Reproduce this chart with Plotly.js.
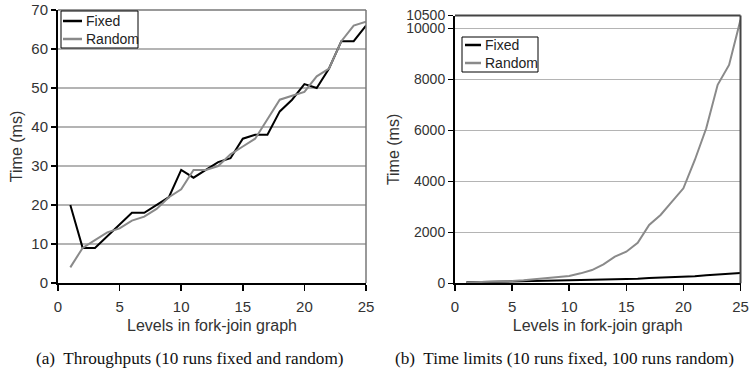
<!DOCTYPE html>
<html><head><meta charset="utf-8">
<script src="https://cdn.plot.ly/plotly-3.0.1.min.js"></script>
<style>body{margin:0;background:#fff}#c{width:750px;height:375px}</style>
</head><body><div id="c"></div>
<script>
const levels = [1,2,3,4,5,6,7,8,9,10,11,12,13,14,15,16,17,18,19,20,21,22,23,24,25];
const thrFixed  = [20,9,9,12,15,18,18,20,22,29,27,29,31,32,37,38,38,44,47,51,50,55,62,62,66];
const thrRandom = [4,9,11,13,14,16,17,19,22,24,29,29,30,33,35,37,42,47,48,49,53,55,62,66,67];
const limFixed  = [40,45,55,60,70,80,90,100,105,115,125,130,140,150,170,180,210,225,240,260,280,320,340,370,400];
const limRandom = [30,40,55,70,90,120,160,190,230,290,390,520,745,1045,1240,1590,2290,2680,3200,3725,4835,6080,7780,8560,10330];
const xTicks = [0,5,10,15,20,25];
const yTicksA = [0,10,20,30,40,50,60,70];
const yTicksB = [0,2000,4000,6000,8000,10000,10500];
const seriesNames = ['Fixed','Random'];
const captions = ["(a)  Throughputs (10 runs fixed and random)", "(b)  Time limits (10 runs fixed, 100 runs random)"];

const W = 750, H = 375;
const px = v => v / W, py = v => 1 - v / H;
const fixedColor = '#000000', randColor = '#8a8a8a';
const colors = [fixedColor, randColor];
const traces = [
  {x:levels, y:thrFixed, name:seriesNames[0], mode:'lines', line:{color:fixedColor,width:2}, xaxis:'x', yaxis:'y'},
  {x:levels, y:thrRandom, name:seriesNames[1], mode:'lines', line:{color:randColor,width:2}, xaxis:'x', yaxis:'y'},
  {x:levels, y:limFixed, name:seriesNames[0], mode:'lines', line:{color:fixedColor,width:2}, xaxis:'x2', yaxis:'y2'},
  {x:levels, y:limRandom, name:seriesNames[1], mode:'lines', line:{color:randColor,width:2}, xaxis:'x2', yaxis:'y2'}
];
const sans = 'Liberation Sans, Arial, sans-serif';
const tf = {family:sans, size:15, color:'#333'};
const titf = {family:sans, size:16, color:'#333'};
function xax(dom, anchor){
  return {domain:dom, anchor:anchor, range:[0,25], tickvals:xTicks, ticks:'outside', ticklen:6, tickwidth:1.5, tickcolor:'#000',
    ticklabelstandoff:3, showline:true, linecolor:'#000', linewidth:2, showgrid:false, zeroline:false,
    tickfont:tf, title:{text:'Levels in fork-join graph', font:titf, standoff:6}};
}
function yax(dom, anchor, range, ticks, standoff, fsize){
  return {domain:dom, anchor:anchor, range:range, tickvals:ticks, tickformat:'d', ticks:'outside', ticklen:5, tickwidth:1.5, tickcolor:'#000',
    showline:true, linecolor:'#000', linewidth:2, showgrid:true, gridcolor:'#b4b4b4', gridwidth:1.5, zeroline:false,
    tickfont:Object.assign({}, tf, {size:fsize}), title:{text:'Time (ms)', font:titf, standoff:standoff}};
}
// custom legends (box, line samples, labels)
const legends = [
  {x0:61, x1:138, y0:11, y1:48, lx0:63, lx1:82, tx:84, rows:[21,39]},
  {x0:462, x1:538, y0:37, y1:72, lx0:465, lx1:481, tx:483, rows:[45,63]}
];
const shapes = [
  {type:'line', xref:'x domain', yref:'y domain', x0:1, x1:1, y0:0, y1:1, line:{color:'#777', width:1.5}},
  {type:'line', xref:'x domain', yref:'y domain', x0:0, x1:1, y0:1, y1:1, line:{color:'#777', width:1.5}},
  {type:'line', xref:'x2 domain', yref:'y2 domain', x0:1, x1:1, y0:0, y1:1, line:{color:'#444', width:2}},
  {type:'line', xref:'x2 domain', yref:'y2 domain', x0:0, x1:1, y0:1, y1:1, line:{color:'#444', width:2}}
];
const annotations = [];
legends.forEach(L => {
  shapes.push({type:'rect', xref:'paper', yref:'paper', x0:px(L.x0), x1:px(L.x1), y0:py(L.y1), y1:py(L.y0),
    line:{color:'#000', width:1}, fillcolor:'#fff', layer:'above'});
  L.rows.forEach((r, i) => {
    shapes.push({type:'line', xref:'paper', yref:'paper', x0:px(L.lx0), x1:px(L.lx1), y0:py(r), y1:py(r),
      line:{color:colors[i], width:2.5}, layer:'above'});
    annotations.push({text:seriesNames[i], xref:'paper', yref:'paper', x:px(L.tx), y:py(r), xanchor:'left', yanchor:'middle',
      showarrow:false, font:{family:sans, size:14, color:'#222'}});
  });
});
const serif = {family:'Liberation Serif, Times New Roman, serif', size:17.2, color:'#111'};
annotations.push(
  {text:captions[0], xref:'paper', yref:'paper', x:px(190), y:py(358), showarrow:false, xanchor:'center', yanchor:'middle', font:serif},
  {text:captions[1], xref:'paper', yref:'paper', x:px(564), y:py(358), showarrow:false, xanchor:'center', yanchor:'middle', font:serif}
);
const layout = {
  width:W, height:H, margin:{l:0,r:0,t:0,b:0}, paper_bgcolor:'#fff', plot_bgcolor:'#fff',
  showlegend:false,
  xaxis: xax([px(58),px(366)],'y'),
  yaxis: yax([py(283),py(10)],'x',[0,70],yTicksA,5,15),
  xaxis2: xax([px(455),px(740.5)],'y2'),
  yaxis2: yax([py(283.3),py(15.5)],'x2',[0,10500],yTicksB,3,14),
  shapes:shapes, annotations:annotations
};
Plotly.newPlot('c', traces, layout, {staticPlot:true, displayModeBar:false});
</script></body></html>
